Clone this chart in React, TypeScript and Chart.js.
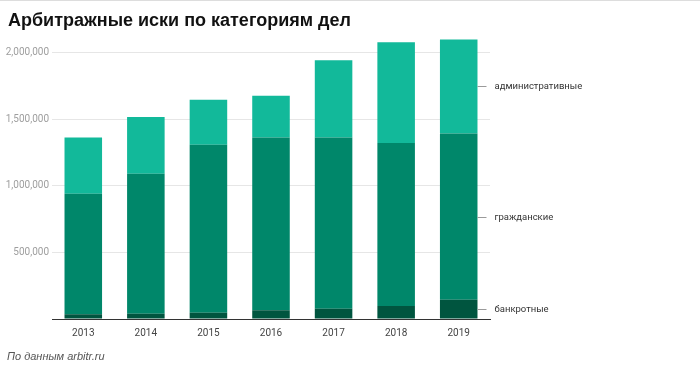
import React, { useEffect, useRef } from "react";
import { Chart, registerables } from "chart.js";

Chart.register(...registerables);

const TITLE = "Арбитражные иски по категориям дел";
const SOURCE = "По данным arbitr.ru";
const years = ["2013", "2014", "2015", "2016", "2017", "2018", "2019"];
const seriesNames = ["банкротные", "гражданские", "административные"];
const bankrupt = [35000, 40000, 47000, 65000, 77000, 97000, 145000];
const civil = [905000, 1050000, 1260000, 1297000, 1285000, 1223000, 1247000];
const administrative = [422000, 425000, 338000, 313000, 578000, 755000, 705000];
const seriesColors = ["#00553f", "#00876a", "#12b99a"];
const yTickStep = 100000;
const yLabelStep = 500000;

const endLabels = {
  id: "endLabels",
  afterDatasetsDraw(chart: any) {
    const ctx = chart.ctx;
    ctx.save();
    chart.data.datasets.forEach((ds: any, i: number) => {
      const meta = chart.getDatasetMeta(i);
      const el: any = meta.data[meta.data.length - 1];
      if (!el) return;
      const props = el.getProps(["x", "y", "base", "width"], true);
      const midY = Math.round((props.y + props.base) / 2) + 0.5;
      const x0 = props.x + props.width / 2;
      ctx.strokeStyle = "#9a9a9a";
      ctx.lineWidth = 1;
      ctx.beginPath();
      ctx.moveTo(x0, midY);
      ctx.lineTo(x0 + 9, midY);
      ctx.stroke();
      ctx.fillStyle = "#333333";
      ctx.font = "9.5px Roboto";
      ctx.textAlign = "left";
      ctx.textBaseline = "middle";
      ctx.fillText(ds.label, x0 + 17, midY);
    });
    ctx.restore();
  },
};

const isLabelTick = (v: number) => v > 0 && Math.round(v) % yLabelStep === 0;

export default function App() {
  const ref = useRef<HTMLCanvasElement | null>(null);
  useEffect(() => {
    document.body.style.margin = "0";
    const chart = new Chart(ref.current as HTMLCanvasElement, {
      type: "bar",
      data: {
        labels: years,
        datasets: [
          { label: seriesNames[0], data: bankrupt, backgroundColor: seriesColors[0] },
          { label: seriesNames[1], data: civil, backgroundColor: seriesColors[1] },
          { label: seriesNames[2], data: administrative, backgroundColor: seriesColors[2] },
        ],
      },
      options: {
        animation: false,
        responsive: false,
        maintainAspectRatio: false,
        datasets: { bar: { barPercentage: 0.6, categoryPercentage: 1 } },
        layout: { padding: { left: 0, right: 210, top: 39, bottom: 0 } },
        plugins: { legend: { display: false }, tooltip: { enabled: false }, title: { display: false } },
        scales: {
          x: {
            stacked: true,
            grid: { display: true, drawOnChartArea: false, drawTicks: false },
            border: { display: true, color: "#333333", width: 1 },
            ticks: { color: "#444444", font: { family: "Roboto", size: 10 }, padding: 8 },
            afterFit(scale: any) {
              scale.height = 50;
            },
          },
          y: {
            stacked: true,
            min: 0,
            max: 2100000,
            grid: {
              drawTicks: false,
              color: (c: any) => (c.tick && isLabelTick(c.tick.value) ? "#e6e6e6" : "rgba(0,0,0,0)"),
            },
            border: { display: false },
            ticks: {
              stepSize: yTickStep,
              autoSkip: false,
              maxTicksLimit: 100,
              color: "#9e9e9e",
              font: { family: "Roboto", size: 10 },
              padding: 3,
              callback: (v: any) => (isLabelTick(Number(v)) ? Number(v).toLocaleString("en-US") : ""),
            },
            afterFit(scale: any) {
              scale.width = 52;
            },
          },
        },
      },
      plugins: [endLabels],
    });
    return () => chart.destroy();
  }, []);

  return (
    <div
      style={{
        position: "relative",
        width: 700,
        height: 369,
        background: "#fff",
        overflow: "hidden",
        borderTop: "1px solid #dddddd",
        boxSizing: "border-box",
      }}
    >
      <canvas ref={ref} width={700} height={369} style={{ position: "absolute", left: 0, top: -1 }} />
      <div
        style={{
          position: "absolute",
          left: 8,
          top: 9,
          font: "bold 18px 'Liberation Sans', Arial, sans-serif",
          color: "#111",
          whiteSpace: "nowrap",
        }}
      >
        {TITLE}
      </div>
      <div
        style={{
          position: "absolute",
          left: 7,
          top: 349,
          font: "italic 11px 'Liberation Sans', Arial, sans-serif",
          color: "#555",
          whiteSpace: "nowrap",
        }}
      >
        {SOURCE}
      </div>
    </div>
  );
}
